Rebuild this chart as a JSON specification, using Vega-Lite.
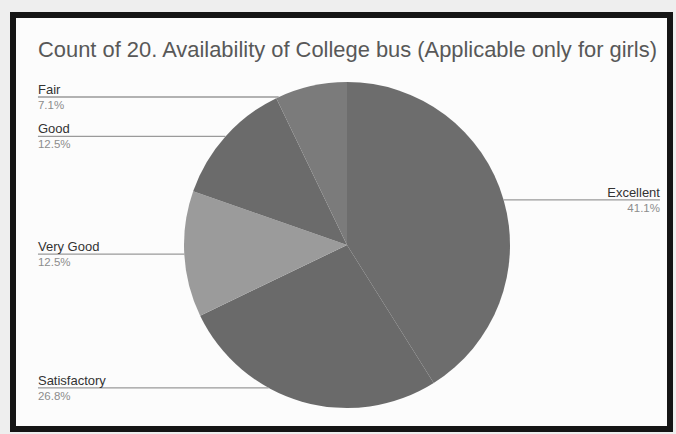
{
  "$schema": "https://vega.github.io/schema/vega-lite/v6.json",
  "autosize": {"type": "fit", "contains": "padding"},
  "width": 676,
  "height": 434,
  "padding": {"top": 15, "left": 13, "right": 6, "bottom": 5},
  "background": "#eeeeee",
  "title": {
    "text": "Count of 20. Availability of College bus (Applicable only for girls)",
    "font": "Liberation Sans",
    "fontSize": 21.9,
    "fontWeight": "normal",
    "color": "#585858",
    "anchor": "start",
    "frame": "group",
    "dx": 25,
    "offset": -47
  },
  "config": {
    "view": {"stroke": "#151515", "strokeWidth": 6, "fill": "#fcfcfc"},
    "text": {"font": "Liberation Sans"}
  },
  "data": {
    "values": [
      {"category": "Excellent", "count": 23},
      {"category": "Satisfactory", "count": 15},
      {"category": "Very Good", "count": 7},
      {"category": "Good", "count": 7},
      {"category": "Fair", "count": 4}
    ]
  },
  "transform": [
    {"window": [{"op": "row_number", "as": "rn"}, {"op": "sum", "field": "count", "as": "cum"}], "frame": [null, 0]},
    {"joinaggregate": [{"op": "sum", "field": "count", "as": "total"}]},
    {"calculate": "(datum.cum - datum.count / 2) / datum.total * 2 * PI", "as": "mid"},
    {"calculate": "datum.count / datum.total", "as": "share"},
    {"calculate": "sin(datum.mid) >= 0 ? 1 : -1", "as": "side"},
    {"calculate": "clamp(cos(datum.mid), -0.877, 0.908)", "as": "ly"},
    {"calculate": "datum.side * sqrt(1 - datum.ly * datum.ly)", "as": "edge"},
    {"calculate": "datum.side > 0 ? 1.92 : -1.896", "as": "margin"}
  ],
  "layer": [
    {
      "mark": {"type": "arc", "outerRadius": 163, "xOffset": 5.5, "yOffset": 23},
      "encoding": {
        "theta": {"field": "count", "type": "quantitative", "stack": true},
        "order": {"field": "rn", "type": "quantitative"},
        "color": {
          "field": "category",
          "type": "nominal",
          "scale": {
            "domain": ["Excellent", "Satisfactory", "Very Good", "Good", "Fair"],
            "range": ["#6d6d6d", "#6a6a6a", "#9b9b9b", "#6b6b6b", "#7b7b7b"]
          },
          "legend": null
        }
      }
    },
    {
      "mark": {"type": "rule", "color": "#9a9a9a", "strokeWidth": 1.3},
      "encoding": {
        "x": {"field": "edge", "type": "quantitative", "scale": {"domain": [-2.0491, 1.9816], "nice": false, "zero": false}, "axis": null},
        "x2": {"field": "margin"},
        "y": {"field": "ly", "type": "quantitative", "scale": {"domain": [-1.1288, 1.411], "nice": false, "zero": false}, "axis": null}
      }
    },
    {
      "mark": {"type": "text", "fontSize": 13, "color": "#333333", "baseline": "alphabetic", "dy": -3, "align": {"expr": "datum.side > 0 ? 'right' : 'left'"}},
      "encoding": {
        "text": {"field": "category", "type": "nominal"},
        "x": {"field": "margin", "type": "quantitative", "scale": {"domain": [-2.0491, 1.9816], "nice": false, "zero": false}, "axis": null},
        "y": {"field": "ly", "type": "quantitative", "scale": {"domain": [-1.1288, 1.411], "nice": false, "zero": false}, "axis": null}
      }
    },
    {
      "mark": {"type": "text", "fontSize": 11.5, "color": "#8c8c8c", "baseline": "top", "dy": 3, "align": {"expr": "datum.side > 0 ? 'right' : 'left'"}},
      "encoding": {
        "text": {"field": "share", "type": "quantitative", "format": ".1%"},
        "x": {"field": "margin", "type": "quantitative", "scale": {"domain": [-2.0491, 1.9816], "nice": false, "zero": false}, "axis": null},
        "y": {"field": "ly", "type": "quantitative", "scale": {"domain": [-1.1288, 1.411], "nice": false, "zero": false}, "axis": null}
      }
    }
  ]
}
